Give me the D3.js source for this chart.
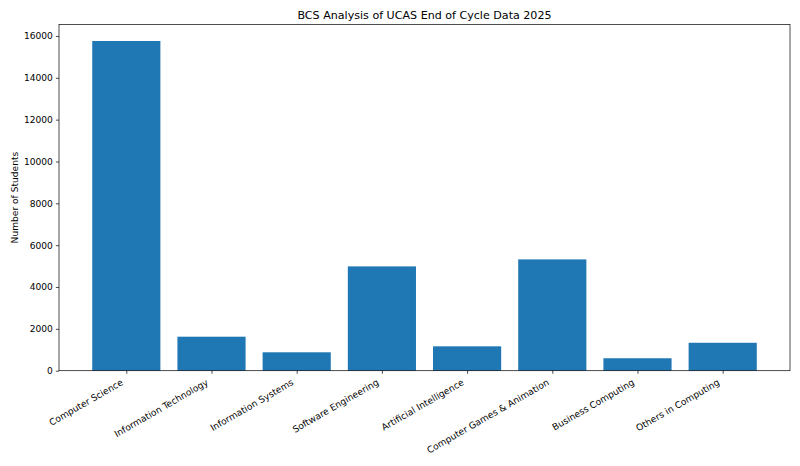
<!DOCTYPE html>
<html><head><meta charset="utf-8">
<script src="https://cdn.jsdelivr.net/npm/d3@7"></script>
<style>body{margin:0;background:#fff;} text{font-family:"DejaVu Sans",sans-serif;fill:#000;}</style>
</head><body>
<svg id="c" width="800" height="466"></svg>
<script>
const categories = ["Computer Science","Information Technology","Information Systems","Software Engineering","Artificial Intelligence","Computer Games & Animation","Business Computing","Others in Computing"];
const students = [15760, 1625, 880, 4985, 1165, 5320, 595, 1335];
const yTicks = [0,2000,4000,6000,8000,10000,12000,14000,16000];
const titleText = "BCS Analysis of UCAS End of Cycle Data 2025";
const yLabel = "Number of Students";

const W=800,H=466;
const m={left:59,right:10,top:24.5,bottom:95.3};
const iw=W-m.left-m.right, ih=H-m.top-m.bottom;
const svg=d3.select("#c");
const g=svg.append("g").attr("transform",`translate(${m.left},${m.top})`);

const n=categories.length;
const pad=0.4+0.05*(n-1+0.8);
const x=d3.scaleLinear().domain([-pad, n-1+pad]).range([0,iw]);
const ymax=d3.max(students)*1.05;
const y=d3.scaleLinear().domain([0,ymax]).range([ih,0]);

g.selectAll("rect.bar").data(students).join("rect")
 .attr("x",(d,i)=>x(i-0.4)).attr("width",(d,i)=>x(i+0.4)-x(i-0.4))
 .attr("y",d=>y(d)).attr("height",d=>y(0)-y(d)).attr("fill","#1f77b4");

const fs=9.1;
const yAxis=g.append("g").call(d3.axisLeft(y).tickValues(yTicks).tickSize(3.1).tickPadding(3.1).tickFormat(d3.format("d")));
yAxis.select(".domain").remove();
yAxis.selectAll("text").style("font-size",fs+"px").style("font-family","DejaVu Sans");
yAxis.selectAll("line").attr("stroke","#000").attr("stroke-width",0.7);

const xAxis=g.append("g").attr("transform",`translate(0,${ih})`)
 .call(d3.axisBottom(x).tickValues(d3.range(n)).tickSize(3.1).tickFormat(i=>categories[i]));
xAxis.select(".domain").remove();
xAxis.selectAll("line").attr("stroke","#000").attr("stroke-width",0.7);
xAxis.selectAll("text").style("font-size",fs+"px").style("font-family","DejaVu Sans")
 .attr("text-anchor","end").attr("dy",null).attr("y",null)
 .attr("transform","translate(-3,13.5) rotate(-30)");

g.append("rect").attr("x",0).attr("y",0).attr("width",iw).attr("height",ih)
 .attr("fill","none").attr("stroke","#000").attr("stroke-width",0.7);

svg.append("text").attr("x",m.left+iw/2).attr("y",19).attr("text-anchor","middle")
 .style("font-size","11.1px").text(titleText);
svg.append("text").attr("transform",`translate(18,${m.top+ih/2}) rotate(-90)`)
 .attr("text-anchor","middle").style("font-size",fs+"px").text(yLabel);
</script>
</body></html>
